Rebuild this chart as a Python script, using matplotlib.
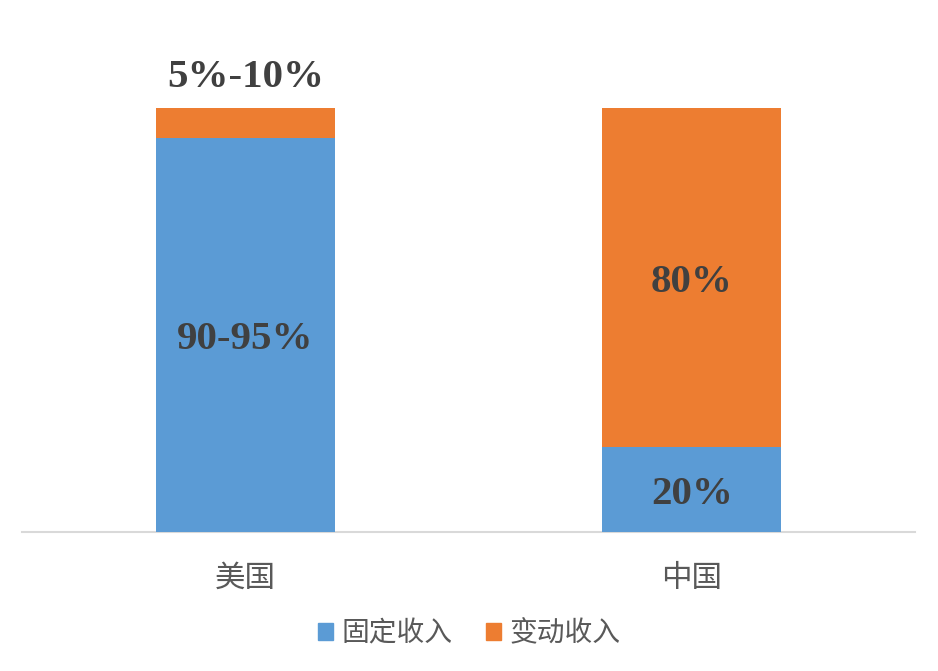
import matplotlib.pyplot as plt
from matplotlib.patches import Patch

plt.rcParams['font.family'] = ['Noto Sans CJK SC', 'DejaVu Sans']

# data
countries = ['美国', '中国']
fixed_pct = [93, 20]
variable_pct = [7, 80]
fixed_labels = ['90-95%', '20%']
variable_labels = ['5%-10%', '80%']
series_names = ['固定收入', '变动收入']

BLUE = '#5B9BD5'
ORANGE = '#ED7D31'
LABEL_COLOR = '#404040'
TICK_COLOR = '#595959'

W, H = 938, 671
fig = plt.figure(figsize=(W / 100, H / 100), dpi=100)
ax = fig.add_axes([22 / W, (H - 532) / H, (915 - 22) / W, (532 - 108) / H])

x = list(range(len(countries)))
bw = 0.4
b1 = ax.bar(x, fixed_pct, width=bw, color=BLUE, zorder=2)
b2 = ax.bar(x, variable_pct, width=bw, bottom=fixed_pct, color=ORANGE, zorder=2)

lab_font = dict(family='Liberation Serif', fontweight='bold', fontsize=29.5,
                color=LABEL_COLOR, ha='center', va='center',
                textcoords='offset points', annotation_clip=False)

for i in x:
    # fixed part label, centred in the blue segment
    ax.annotate(fixed_labels[i], (i, fixed_pct[i] / 2), xytext=(0, -3.5), **lab_font)
    top = fixed_pct[i] + variable_pct[i]
    if variable_pct[i] < 15:
        # small segment: label above the bar
        ax.annotate(variable_labels[i], (i, top), xytext=(0, 22), **lab_font)
    else:
        ax.annotate(variable_labels[i], (i, fixed_pct[i] + variable_pct[i] / 2),
                    xytext=(0, -3.5), **lab_font)

ax.set_xlim(-0.5, 1.5)
ax.set_ylim(0, 100)
ax.set_yticks([])
ax.set_xticks(x)
ax.set_xticklabels(countries, fontsize=22, color=TICK_COLOR, fontweight='light')
ax.tick_params(axis='x', length=0, pad=22)

for s in ['top', 'right', 'left']:
    ax.spines[s].set_visible(False)
ax.spines['bottom'].set_color('#D9D9D9')
ax.spines['bottom'].set_linewidth(1.5)
ax.spines['bottom'].set_zorder(1)

handles = [Patch(color=BLUE), Patch(color=ORANGE)]
leg = fig.legend(handles, series_names, loc='center', bbox_to_anchor=(0.5, 1 - 633 / H),
                 ncol=2, frameon=False, handlelength=0.55, handleheight=0.55,
                 handletextpad=0.3, columnspacing=1.2,
                 prop={'size': 20, 'weight': 'light'})
for t in leg.get_texts():
    t.set_color(TICK_COLOR)

fig.savefig('out.png', dpi=100)
